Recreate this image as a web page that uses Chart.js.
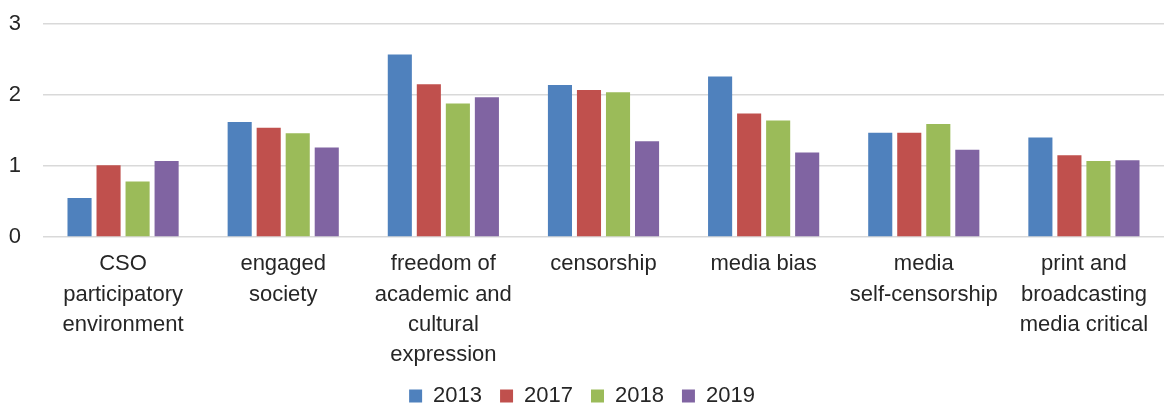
<!DOCTYPE html>
<html lang="en">
<head>
    <meta charset="UTF-8">
    <title>Indicators 2013-2019</title>
    <script src="https://cdn.jsdelivr.net/npm/chart.js"></script>
    <style>
        body { margin: 0; background: #fff; }
        #wrap { width: 1164px; height: 406px; }
    </style>
</head>
<body>
    <div id="wrap"><canvas id="chart"></canvas></div>

    <script>
        // categories (split into lines as in the original)
        let categories = [
            ["CSO", "participatory", "environment"],
            ["engaged", "society"],
            ["freedom of", "academic and", "cultural", "expression"],
            ["censorship"],
            ["media bias"],
            ["media", "self-censorship"],
            ["print and", "broadcasting", "media critical"]
        ];
        let values2013 = [0.55, 1.62, 2.57, 2.14, 2.26, 1.47, 1.40];
        let values2017 = [1.01, 1.54, 2.15, 2.07, 1.74, 1.47, 1.15];
        let values2018 = [0.78, 1.46, 1.88, 2.04, 1.64, 1.59, 1.07];
        let values2019 = [1.07, 1.26, 1.97, 1.35, 1.19, 1.23, 1.08];
        let yTicks = [0, 1, 2, 3];

        let font = "'Liberation Sans', Arial, sans-serif";

        let ctx = document.getElementById("chart").getContext("2d");
        let chart = new Chart(ctx, {
            type: "bar",
            data: {
                labels: categories,
                datasets: [
                    { label: "2013", data: values2013, backgroundColor: "#4F81BD" },
                    { label: "2017", data: values2017, backgroundColor: "#C0504D" },
                    { label: "2018", data: values2018, backgroundColor: "#9BBB59" },
                    { label: "2019", data: values2019, backgroundColor: "#8064A2" }
                ]
            },
            options: {
                responsive: true,
                maintainAspectRatio: false,
                animation: false,
                categoryPercentage: 0.725,
                barPercentage: 0.83,
                layout: { padding: { top: 10, right: 0, left: 0, bottom: 0 } },
                plugins: {
                    legend: {
                        position: "bottom",
                        maxHeight: 39,
                        labels: {
                            boxWidth: 13,
                            boxHeight: 13,
                            padding: 18,
                            color: "#262626",
                            font: { family: font, size: 22, lineHeight: 0.6 }
                        }
                    },
                    tooltip: { enabled: false }
                },
                scales: {
                    x: {
                        grid: { display: false },
                        border: { display: false },
                        afterFit: function (axis) { axis.height = 130; },
                        ticks: {
                            color: "#262626",
                            maxRotation: 0,
                            autoSkip: false,
                            padding: 4,
                            font: { family: font, size: 22, lineHeight: 1.38 }
                        }
                    },
                    y: {
                        min: 0,
                        max: 3,
                        afterBuildTicks: function (axis) {
                            axis.ticks = yTicks.map(function (v) { return { value: v }; });
                        },
                        afterFit: function (axis) {
                            axis.width = 43;
                            axis.paddingTop = 24;
                            axis.paddingBottom = 0;
                        },
                        grid: { color: "#D9D9D9", lineWidth: 1.5, drawTicks: false },
                        border: { display: false },
                        ticks: {
                            color: "#262626",
                            padding: 22,
                            font: { family: font, size: 22 }
                        }
                    }
                }
            }
        });
    </script>
</body>
</html>
